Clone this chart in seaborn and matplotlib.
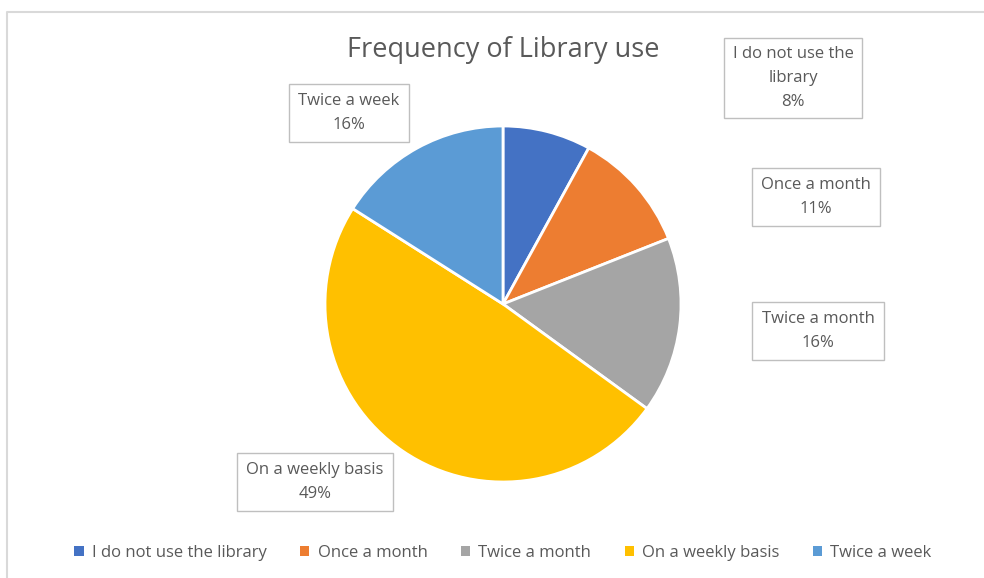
import matplotlib
matplotlib.use("Agg")
import matplotlib.pyplot as plt
import seaborn as sns
from matplotlib.patches import Patch

sns.set_theme(style="white")
plt.rcParams['font.family'] = ['Liberation Sans Narrow', 'Open Sans', 'DejaVu Sans']

categories = ["I do not use the library", "Once a month", "Twice a month",
              "On a weekly basis", "Twice a week"]
label_texts = ["I do not use the\nlibrary", "Once a month", "Twice a month",
               "On a weekly basis", "Twice a week"]
percentages = [8, 11, 16, 49, 16]
colors = ["#4472C4", "#ED7D31", "#A5A5A5", "#FFC000", "#5B9BD5"]
title = "Frequency of Library use"

W, H = 984, 578
fig = plt.figure(figsize=(W / 100, H / 100), dpi=100)
ax = fig.add_axes([0, 0, 1, 1])


def py(y):
    return H - y


# chart border
ax.plot([7, 7, W + 5], [py(H + 5), py(12), py(12)], color="#D9D9D9", lw=1.5,
        solid_capstyle='butt')

ax.pie(percentages, colors=colors, startangle=90, counterclock=False,
       center=(503, py(304)), radius=178,
       wedgeprops=dict(edgecolor="white", linewidth=2))
ax.set_xlim(0, W)
ax.set_ylim(0, H)
ax.set_aspect('equal')
ax.axis('off')

ax.text(503, py(50), title, ha='center', va='center', fontsize=19.5, color="#595959")

label_pos = [(793, 78), (816, 197), (818, 331), (315, 482), (349, 113)]
box_pads = [0.5, 0.55, 0.55, 0.55, 0.55]
for txt, pct, (x, y), pad in zip(label_texts, percentages, label_pos, box_pads):
    ax.text(x, py(y), f"{txt}\n{pct}%", ha='center', va='center', fontsize=12,
            color="#595959", linespacing=1.65,
            bbox=dict(boxstyle=f"square,pad={pad}", facecolor="white",
                      edgecolor="#BFBFBF", linewidth=1.0))

handles = [Patch(facecolor=c, edgecolor='none') for c in colors]
leg = fig.legend(handles, categories, loc='center', bbox_to_anchor=(503 / W, 1 - 553 / H),
                 ncol=5, frameon=False, fontsize=12, handlelength=0.55, handleheight=0.55,
                 handletextpad=0.5, columnspacing=2.0)
for t in leg.get_texts():
    t.set_color("#595959")

fig.savefig("out.png", dpi=100, facecolor="white")
